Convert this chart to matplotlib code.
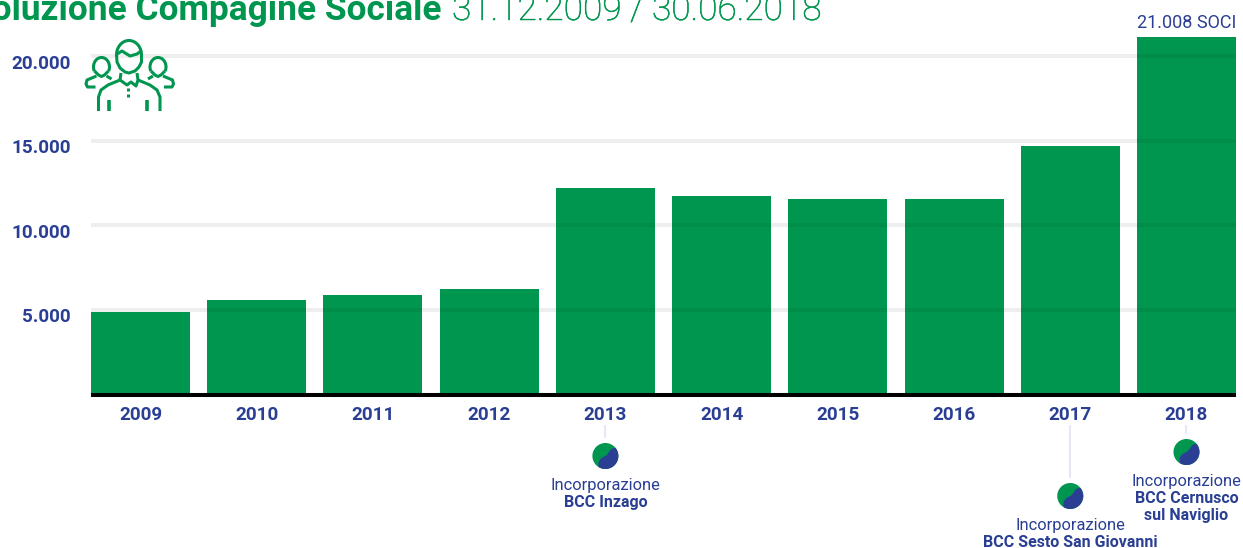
import matplotlib
matplotlib.use('Agg')
import matplotlib.pyplot as plt
import matplotlib.patheffects as pe
from matplotlib.patches import Circle, Arc, PathPatch
from matplotlib.path import Path
from matplotlib.transforms import Affine2D
import numpy as np

# Data
years = ['2009', '2010', '2011', '2012', '2013', '2014', '2015', '2016', '2017', '2018']
soci = [4880, 5590, 5880, 6240, 12200, 11730, 11560, 11560, 14690, 21120]
grid_values = [5000, 10000, 15000, 20000]
grid_labels = ['5.000', '10.000', '15.000', '20.000']

# index of the year, pixel y of the disc, text lines
events = [
    (4, 456, 'Incorporazione', ['BCC Inzago']),
    (8, 496, 'Incorporazione', ['BCC Sesto San Giovanni']),
    (9, 452, 'Incorporazione', ['BCC Cernusco', 'sul Naviglio']),
]

GREEN = '#00964f'
BLUE = '#2a3f94'
W, H = 1243, 548

plt.rcParams['font.family'] = ['Roboto', 'DejaVu Sans']

fig = plt.figure(figsize=(W / 100, H / 100), dpi=100)
ax = fig.add_axes([0, 0, 1, 1])
ax.axis('off')

# scale: year spacing 116.22 px, 5000 soci = 84.6 px, zero at y=394.5
step = 116.22
x0 = 140.5
per = 84.6 / 5000
y0 = 394.5
ax.set_xlim(-x0 / step, (W - x0) / step)
ax.set_ylim((y0 - H) / per, y0 / per)

# pixel coordinates for decoration, origin top left
px = Affine2D().scale(1 / W, -1 / H).translate(0, 1) + fig.transFigure

xs = list(range(len(years)))
left, right = -0.427, 9.427

ax.bar(xs, soci, width=99 / step, color=GREEN, zorder=2)
# translucent so the lines still show faintly over the bars
ax.hlines(grid_values, left, right, color='black', alpha=0.065, lw=2.9, zorder=3)
ax.hlines(0, left, right, color='black', lw=2.9, zorder=4)

for v, lab in zip(grid_values, grid_labels):
    ax.text(71, y0 - v * per + 12.5, lab, transform=px, ha='right', va='baseline',
            color=BLUE, fontsize=13.6, fontweight='bold')

for i, yr in zip(xs, years):
    ax.text(x0 + i * step, 420, yr, transform=px, ha='center', va='baseline',
            color=BLUE, fontsize=13.6, fontweight='bold')

ax.text(1186.5, 28, '21.008 SOCI', transform=px, ha='center', va='baseline',
        color=BLUE, fontsize=13)

# title runs off the top left edge of the picture
ax.text(442, 20, 'Evoluzione Compagine Sociale', transform=px, ha='right', va='baseline',
        color=GREEN, fontsize=25.4, fontweight='bold')
ax.text(452, 20, '31.12.2009 / 30.06.2018', transform=px, ha='left', va='baseline',
        color=GREEN, fontsize=25.4, fontweight='light',
        path_effects=[pe.withStroke(linewidth=0.35, foreground=GREEN)])


def disc(cx, cy, r=13):
    fig.add_artist(Circle((cx, cy), r, transform=px, fc=GREEN, ec='none'))
    # blue part: rim from upper right round to lower left, back along an S
    t = np.radians(np.linspace(-38.7, 120.6, 40))
    verts = [(cx + r * np.cos(a), cy + r * np.sin(a)) for a in t]
    codes = [Path.MOVETO] + [Path.LINETO] * (len(verts) - 1)
    s_curve = [(-8, 5), (-5, 2), (0, 0), (4, -2), (3.5, -8), (10.1, -8.1)]
    verts += [(cx + a, cy + b) for a, b in s_curve]
    codes += [Path.CURVE4] * 6
    fig.add_artist(PathPatch(Path(verts, codes), transform=px, fc=BLUE, ec='none'))


for i, cy, first, bold_lines in events:
    cx = x0 + i * step
    ax.plot([cx, cx], [426, cy - 19], transform=px, color='#e2e2f2', lw=1.2, zorder=1)
    disc(cx, cy)
    ty = cy + 34
    ax.text(cx, ty, first, transform=px, ha='center', va='baseline', color=BLUE, fontsize=11.9)
    for k, line in enumerate(bold_lines):
        ax.text(cx, ty + 17 * (k + 1), line, transform=px, ha='center', va='baseline',
                color=BLUE, fontsize=11.5, fontweight='bold')


# people icon
def icon_line(xx, yy, lw=2.2):
    fig.add_artist(plt.Line2D(xx, yy, transform=px, color=GREEN, lw=lw,
                              solid_capstyle='butt', solid_joinstyle='round'))


def icon_arc(cx, cy, w, h, t1, t2):
    fig.add_artist(Arc((cx, cy), w, h, theta1=t1, theta2=t2, transform=px, color=GREEN, lw=2.2))


# head
icon_arc(129, 55, 25, 29, 175, 365)
icon_line([116.5, 117, 120, 125, 129, 135, 139, 141.5, 141.5],
          [54, 62, 68, 72, 73, 71, 67, 62, 54])
icon_line([117, 122, 130, 137, 141], [54, 51, 56, 54, 51])
# collar and shoulders
icon_line([121, 120, 127, 131, 136, 138, 137], [73, 80, 85, 82, 86, 80, 73])
icon_line([120, 108, 101, 98.5, 98.5], [80, 85, 90, 97, 111])
icon_line([138, 150, 157, 160, 160], [80, 85, 90, 97, 111])
icon_line([109.5, 109.5], [100, 111], lw=2.6)
icon_line([147.5, 147.5], [100, 111], lw=2.6)
icon_line([128.5, 128.5], [88, 91], lw=2.2)
icon_line([128.5, 128.5], [93.5, 96.5], lw=2.2)
# side people
for cx, sgn in [(101.5, -1), (158, 1)]:
    icon_arc(cx, 67, 16, 19, 150, 390)
    icon_line([cx - 7, cx - 3, cx, cx + 3, cx + 7], [71, 75, 76.5, 75, 71])
    icon_line([cx + sgn * 5, cx + sgn * 14.5, cx + sgn * 15.5, cx + sgn * 14, cx + sgn * 6],
              [76, 80, 84, 87, 87])
    icon_line([cx - sgn * 5, cx - sgn * 10], [76, 79])

fig.savefig('out.png', dpi=100)
